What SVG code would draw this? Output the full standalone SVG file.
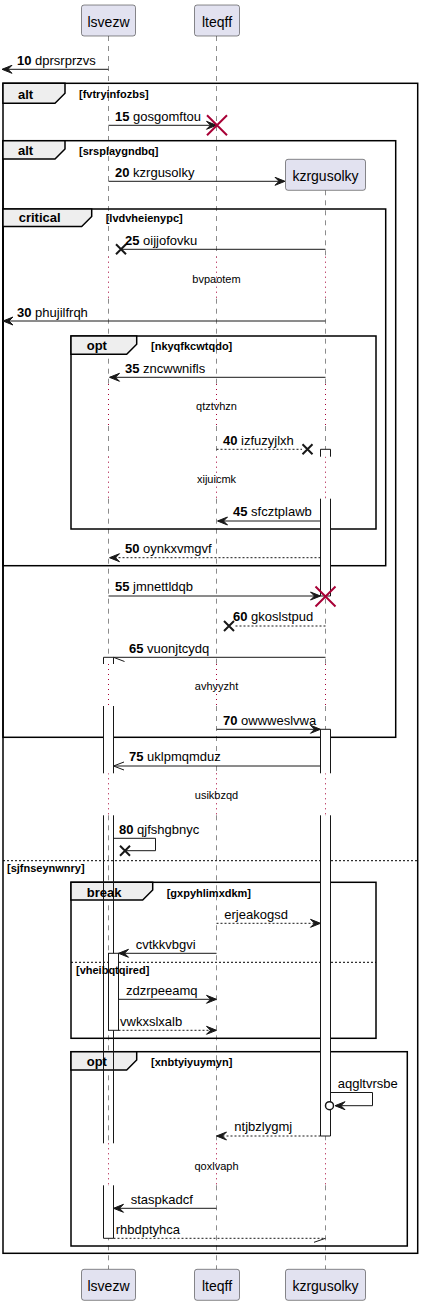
<svg xmlns="http://www.w3.org/2000/svg" width="423" height="1306" viewBox="0 0 423 1306">
<style>
text{font-family:"Liberation Sans",Arial,sans-serif;fill:#000}
.pt{font-size:14px}
.mt{font-size:13px}
.b{font-weight:bold}
.dt{font-size:11px}
.ft{font-size:13px;font-weight:bold}
.ct{font-size:11px;font-weight:bold}
.box{fill:#E2E2F0;stroke:#181818;stroke-width:0.5}
.ll{stroke:#181818;stroke-width:0.5;stroke-dasharray:5,5;fill:none}
.dl{stroke:#A80036;stroke-width:1;stroke-dasharray:1,4;fill:none}
.act{fill:#FFFFFF;stroke:#181818;stroke-width:1}
.fr{fill:none;stroke:#000;stroke-width:1.5}
.tab{fill:#EEEEEE;stroke:#000;stroke-width:1.5}
.sep{stroke:#000;stroke-width:1;stroke-dasharray:2,2;fill:none}
.m{stroke:#181818;stroke-width:1;fill:none}
.md{stroke:#181818;stroke-width:1;stroke-dasharray:2,2;fill:none}
.ah{fill:#181818;stroke:#181818;stroke-width:1}
.x{stroke:#181818;stroke-width:2}
.rx{stroke:#A80036;stroke-width:2}
</style>
<rect width="423" height="1306" fill="#FFFFFF"/>
<g id="lifelines">
<path class="ll" d="M108.5,36V256.7M108.5,298.7V384M108.5,426V456.7M108.5,498.7V664M108.5,706V773.3M108.5,815.3V1143.3M108.5,1185.3V1269.3"/>
<path class="ll" d="M216.5,36V256.7M216.5,298.7V384M216.5,426V456.7M216.5,498.7V664M216.5,706V773.3M216.5,815.3V1143.3M216.5,1185.3V1269.3"/>
<path class="ll" d="M325.5,190.3V256.7M325.5,298.7V384M325.5,426V456.7M325.5,498.7V664M325.5,706V773.3M325.5,815.3V1143.3M325.5,1185.3V1269.3"/>
<path class="dl" d="M108.5,256.7V298.7M108.5,384V426M108.5,456.7V498.7M108.5,664V706M108.5,773.3V815.3M108.5,1143.3V1185.3"/>
<path class="dl" d="M216.5,256.7V298.7M216.5,384V426M216.5,456.7V498.7M216.5,664V706M216.5,773.3V815.3M216.5,1143.3V1185.3"/>
<path class="dl" d="M325.5,256.7V298.7M325.5,384V426M325.5,456.7V498.7M325.5,664V706M325.5,773.3V815.3M325.5,1143.3V1185.3"/>
</g>
<g id="frames">
<rect class="fr" x="3" y="83.3" width="414.7" height="1170"/>
<polygon class="tab" points="3,83.3 65,83.3 65,93.3 55,103.3 3,103.3"/>
<line class="sep" x1="3" y1="860.7" x2="417.7" y2="860.7"/>
<rect class="fr" x="3" y="140.7" width="392.7" height="596.6"/>
<polygon class="tab" points="3,140.7 65,140.7 65,149 55,159 3,159"/>
<rect class="fr" x="3" y="209" width="382.7" height="356.7"/>
<polygon class="tab" points="3,209 91.7,209 91.7,216.5 81.7,226.5 3,226.5"/>
<rect class="fr" x="71" y="336" width="305" height="193"/>
<polygon class="tab" points="71,336 136.7,336 136.7,344.3 126.7,354.3 71,354.3"/>
<rect class="fr" x="71" y="882.3" width="305" height="156"/>
<polygon class="tab" points="71,882.3 152.7,882.3 152.7,890 142.7,900 71,900"/>
<line class="sep" x1="71" y1="962.3" x2="376" y2="962.3"/>
<rect class="fr" x="71" y="1051.7" width="336.3" height="194.3"/>
<polygon class="tab" points="71,1051.7 136.7,1051.7 136.7,1060 126.7,1070 71,1070"/>
</g>
<g id="activations">
<path class="act" d="M320.5,456.7V449.3H330.5V456.7"/>
<path class="act" d="M320.5,498.7V596H330.5V498.7"/>
<path class="act" d="M320.5,773.3V729.3H330.5V773.3"/>
<path class="act" d="M320.5,815.3V1136H330.5V815.3"/>
<path class="act" d="M103.5,664V657.3H113.5V664"/>
<rect x="103.5" y="706" width="10" height="67.3" fill="#FFFFFF"/>
<path class="act" d="M103.5,773.3V706M113.5,706V773.3"/>
<path class="act" d="M103.5,1143.3V815.3M113.5,815.3V1143.3"/>
<path class="act" d="M103.5,1185.3V1238.3H113.5V1185.3"/>
<rect class="act" x="108.5" y="953.3" width="10" height="77"/>
</g>
<g id="frame-labels">
<text class="ft" x="18" y="98.5">alt</text>
<text class="ct" x="79" y="98">[fvtryinfozbs]</text>
<text class="ct" x="7" y="871.5">[sjfnseynwnry]</text>
<text class="ft" x="18" y="155">alt</text>
<text class="ct" x="79" y="155">[srsplaygndbq]</text>
<text class="ft" x="18.7" y="222">critical</text>
<text class="ct" x="105.7" y="222">[lvdvheienypc]</text>
<text class="ft" x="86.7" y="350">opt</text>
<text class="ct" x="151" y="350">[nkyqfkcwtqdo]</text>
<text class="ft" x="86.7" y="896.5">break</text>
<text class="ct" x="166.7" y="896.5">[gxpyhlimxdkm]</text>
<text class="ct" x="76" y="973.5">[vheibqtqired]</text>
<text class="ft" x="86.7" y="1066">opt</text>
<text class="ct" x="151" y="1066">[xnbtyiyuymyn]</text>
</g>
<g id="lsvezw">
<rect class="box" x="81.5" y="5" width="54" height="31" rx="2.5"/>
<text class="pt" x="108.5" y="26.5" text-anchor="middle">lsvezw</text>
<rect class="box" x="81.5" y="1269.3" width="54" height="31" rx="2.5"/>
<text class="pt" x="108.5" y="1290.8" text-anchor="middle">lsvezw</text>
</g>
<g id="lteqff">
<rect class="box" x="194.5" y="5" width="45" height="31" rx="2.5"/>
<text class="pt" x="217" y="26.5" text-anchor="middle">lteqff</text>
<rect class="box" x="194.5" y="1269.3" width="45" height="31" rx="2.5"/>
<text class="pt" x="217" y="1290.8" text-anchor="middle">lteqff</text>
</g>
<g id="kzrgusolky">
<rect class="box" x="285.5" y="159.3" width="80" height="31" rx="2.5"/>
<text class="pt" x="325.5" y="180.8" text-anchor="middle">kzrgusolky</text>
<rect class="box" x="285.5" y="1269.3" width="80" height="31" rx="2.5"/>
<text class="pt" x="325.5" y="1290.8" text-anchor="middle">kzrgusolky</text>
</g>
<g id="delays">
<text class="dt" x="216.5" y="282.7" text-anchor="middle">bvpaotem</text>
<text class="dt" x="216.5" y="410" text-anchor="middle">qtztvhzn</text>
<text class="dt" x="216.5" y="482.7" text-anchor="middle">xijuicmk</text>
<text class="dt" x="216.5" y="690" text-anchor="middle">avhyyzht</text>
<text class="dt" x="216.5" y="799.3" text-anchor="middle">usikbzqd</text>
<text class="dt" x="216.5" y="1169.5" text-anchor="middle">qoxlvaph</text>
</g>
<g id="connectors">
<line class="m" x1="108.5" y1="69.3" x2="3" y2="69.3"/>
<polygon class="ah" points="2,69.3 12,65.3 8,69.3 12,73.3"/>
<text class="mt" x="17" y="64.5"><tspan class="b">10</tspan> dprsrprzvs</text>

<line class="m" x1="108.5" y1="125.3" x2="215.5" y2="125.3"/>
<polygon class="ah" points="216.5,125.3 206.5,121.3 210.5,125.3 206.5,129.3"/>
<path class="rx" d="M207,115.3L227,135.3M207,135.3L227,115.3"/>
<text class="mt" x="115" y="120.5"><tspan class="b">15</tspan> gosgomftou</text>

<line class="m" x1="108.5" y1="181.3" x2="284" y2="181.3"/>
<polygon class="ah" points="285,181.3 275,177.3 279,181.3 275,185.3"/>
<text class="mt" x="115" y="176.5"><tspan class="b">20</tspan> kzrgusolky</text>

<line class="m" x1="325.5" y1="249.3" x2="121" y2="249.3"/>
<path class="x" d="M116,244.3L126,254.3M116,254.3L126,244.3"/>
<text class="mt" x="125" y="244.5"><tspan class="b">25</tspan> oijjofovku</text>

<line class="m" x1="325.5" y1="321" x2="4" y2="321"/>
<polygon class="ah" points="3,321 13,317 9,321 13,325"/>
<text class="mt" x="17" y="316.5"><tspan class="b">30</tspan> phujilfrqh</text>

<line class="m" x1="325.5" y1="377.3" x2="110" y2="377.3"/>
<polygon class="ah" points="109.5,377.3 119.5,373.3 115.5,377.3 119.5,381.3"/>
<text class="mt" x="125" y="372.5"><tspan class="b">35</tspan> zncwwnifls</text>

<line class="md" x1="216.5" y1="449.3" x2="302" y2="449.3"/>
<path class="x" d="M302.5,444.3L312.5,454.3M302.5,454.3L312.5,444.3"/>
<text class="mt" x="223" y="444.5"><tspan class="b">40</tspan> izfuzyjlxh</text>

<line class="m" x1="320.5" y1="521" x2="218" y2="521"/>
<polygon class="ah" points="217.5,521 227.5,517 223.5,521 227.5,525"/>
<text class="mt" x="233" y="516"><tspan class="b">45</tspan> sfcztplawb</text>

<line class="md" x1="320.5" y1="557.7" x2="110" y2="557.7"/>
<polygon class="ah" points="109.5,557.7 119.5,553.7 115.5,557.7 119.5,561.7"/>
<text class="mt" x="125" y="553"><tspan class="b">50</tspan> oynkxvmgvf</text>

<line class="m" x1="108.5" y1="596" x2="320" y2="596"/>
<polygon class="ah" points="320.5,596 310.5,592 314.5,596 310.5,600"/>
<path class="rx" d="M315.5,586.5L335.5,606.5M315.5,606.5L335.5,586.5"/>
<text class="mt" x="115" y="591"><tspan class="b">55</tspan> jmnettldqb</text>

<line class="md" x1="325.5" y1="626" x2="234" y2="626"/>
<path class="x" d="M224,621L234,631M224,631L234,621"/>
<text class="mt" x="233" y="621"><tspan class="b">60</tspan> gkoslstpud</text>

<line class="m" x1="325.5" y1="657.3" x2="113.5" y2="657.3"/>
<line class="m" x1="113.5" y1="657.3" x2="124.5" y2="661.5"/>
<text class="mt" x="129" y="652.5"><tspan class="b">65</tspan> vuonjtcydq</text>

<line class="m" x1="216.5" y1="729.3" x2="319.5" y2="729.3"/>
<polygon class="ah" points="320.5,729.3 310.5,725.3 314.5,729.3 310.5,733.3"/>
<text class="mt" x="223" y="724.5"><tspan class="b">70</tspan> owwweslvwa</text>

<line class="m" x1="320.5" y1="766" x2="113.5" y2="766"/>
<path class="m" d="M124,762L113.5,766L124,770"/>
<text class="mt" x="129" y="761"><tspan class="b">75</tspan> uklpmqmduz</text>

<polyline class="m" points="113.5,838.3 155.5,838.3 155.5,850.7 125,850.7"/>
<path class="x" d="M120,845.7L130,855.7M120,855.7L130,845.7"/>
<text class="mt" x="119" y="833.5"><tspan class="b">80</tspan> qjfshgbnyc</text>

<line class="md" x1="216.5" y1="923.3" x2="319.5" y2="923.3"/>
<polygon class="ah" points="320.5,923.3 310.5,919.3 314.5,923.3 310.5,927.3"/>
<text class="mt" x="224.3" y="918.5">erjeakogsd</text>

<line class="m" x1="216.5" y1="953.3" x2="119.5" y2="953.3"/>
<polygon class="ah" points="118.5,953.3 128.5,949.3 124.5,953.3 128.5,957.3"/>
<text class="mt" x="135.7" y="948.5">cvtkkvbgvi</text>

<line class="m" x1="118.5" y1="999.3" x2="215.5" y2="999.3"/>
<polygon class="ah" points="216.5,999.3 206.5,995.3 210.5,999.3 206.5,1003.3"/>
<text class="mt" x="126" y="994.5">zdzrpeeamq</text>

<line class="md" x1="118.5" y1="1030.3" x2="215.5" y2="1030.3"/>
<polygon class="ah" points="216.5,1030.3 206.5,1026.3 210.5,1030.3 206.5,1034.3"/>
<text class="mt" x="120" y="1025.5">vwkxslxalb</text>

<polyline class="m" points="330.5,1092.5 372.5,1092.5 372.5,1105.7 336,1105.7"/>
<polygon class="ah" points="335,1105.7 345,1101.7 341,1105.7 345,1109.7"/>
<circle cx="329.5" cy="1105.7" r="4" fill="#FFFFFF" stroke="#181818" stroke-width="1.5"/>
<text class="mt" x="337.7" y="1088">aqgltvrsbe</text>

<line class="md" x1="320.5" y1="1136" x2="217.5" y2="1136"/>
<polygon class="ah" points="216.5,1136 226.5,1132 222.5,1136 226.5,1140"/>
<text class="mt" x="234.3" y="1131">ntjbzlygmj</text>

<line class="m" x1="216.5" y1="1208.3" x2="114.5" y2="1208.3"/>
<polygon class="ah" points="113.5,1208.3 123.5,1204.3 119.5,1208.3 123.5,1212.3"/>
<text class="mt" x="130.7" y="1203.5">staspkadcf</text>

<line class="md" x1="113.5" y1="1238.3" x2="325.5" y2="1238.3"/>
<line class="m" x1="325.5" y1="1238.3" x2="314" y2="1242.3"/>
<text class="mt" x="115.7" y="1233.5">rhbdptyhca</text>
</g>
</svg>
